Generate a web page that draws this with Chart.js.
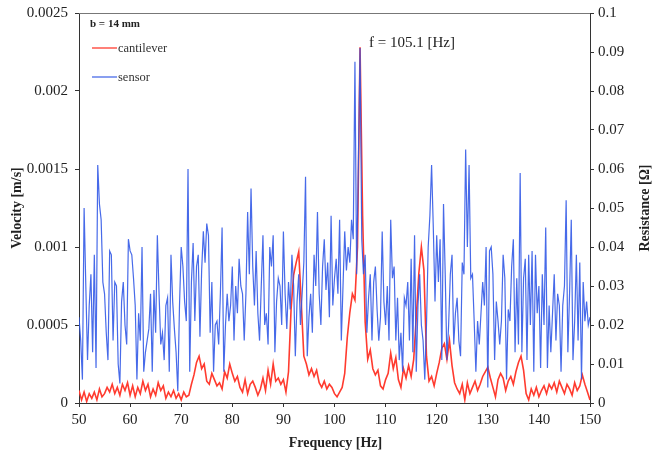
<!DOCTYPE html>
<html>
<head>
<meta charset="utf-8">
<script src="https://cdn.jsdelivr.net/npm/chart.js@4/dist/chart.umd.min.js"></script>
<style>
  html, body { margin: 0; padding: 0; background: #fff; }
  #wrap { width: 655px; height: 455px; position: relative; }
</style>
</head>
<body>
<div id="wrap"><canvas id="freqChart" width="655" height="455"></canvas></div>
<script>
// sensor resistance [Ohm], sampled every 1/3 Hz from 50 Hz (3 values per Hz)
var sensorRes = [
  0.022, 0.016, 0.006,  0.050, 0.030, 0.011,  0.025, 0.033, 0.013,  0.038, 0.009, 0.061,  0.051, 0.047, 0.031,
  0.028, 0.018, 0.011,  0.039, 0.038, 0.016,  0.031, 0.030, 0.010,  0.005, 0.026, 0.031,  0.020, 0.015, 0.042,
  0.039, 0.038, 0.032,  0.025, 0.006, 0.023,  0.016, 0.040, 0.008,  0.013, 0.016, 0.019,  0.028, 0.008, 0.029,
  0.018, 0.043, 0.028,  0.015, 0.018, 0.011,  0.025, 0.027, 0.008,  0.038, 0.026, 0.019,  0.013, 0.003, 0.025,
  0.040, 0.035, 0.026,  0.021, 0.060, 0.008,  0.031, 0.041, 0.021,  0.035, 0.038, 0.017,  0.034, 0.044, 0.036,
  0.046, 0.043, 0.018,  0.031, 0.008, 0.020,  0.021, 0.015, 0.028,  0.045, 0.008, 0.020,  0.028, 0.021, 0.025,
  0.035, 0.016, 0.030,  0.023, 0.037, 0.030,  0.028, 0.016, 0.028,  0.049, 0.033, 0.055,  0.035, 0.025, 0.039,
  0.023, 0.016, 0.030,  0.043, 0.020, 0.023,  0.015, 0.040, 0.035,  0.043, 0.013, 0.026,  0.032, 0.030, 0.020,
  0.044, 0.028, 0.019,  0.031, 0.024, 0.038,  0.030, 0.012, 0.026,  0.033, 0.020, 0.028,  0.036, 0.058, 0.012,
  0.022, 0.028, 0.018,  0.038, 0.030, 0.049,  0.028, 0.020, 0.035,  0.042, 0.029, 0.036,  0.022, 0.048, 0.025,
  0.032, 0.037, 0.028,  0.047, 0.016, 0.030,  0.044, 0.034, 0.040,  0.036, 0.047, 0.042,  0.0875, 0.033, 0.061,
  0.091, 0.042, 0.033,  0.038, 0.018, 0.027,  0.033, 0.016, 0.031,  0.035, 0.024, 0.016,  0.022, 0.044, 0.026,
  0.020, 0.030, 0.016,  0.047, 0.032, 0.035,  0.016, 0.027, 0.011,  0.018, 0.008, 0.027,  0.025, 0.031, 0.016,
  0.037, 0.013, 0.043,  0.008, 0.025, 0.033,  0.020, 0.016, 0.006,  0.020, 0.040, 0.048,  0.061, 0.045, 0.026,
  0.043, 0.031, 0.042,  0.011, 0.051, 0.033,  0.011, 0.020, 0.033,  0.038, 0.015, 0.023,  0.027, 0.016, 0.012,
  0.036, 0.033, 0.065,  0.040, 0.061, 0.032,  0.033, 0.021, 0.008,  0.021, 0.015, 0.023,  0.031, 0.025, 0.040,
  0.004, 0.039, 0.040,  0.033, 0.011, 0.026,  0.021, 0.015, 0.021,  0.038, 0.032, 0.006,  0.024, 0.021, 0.035,
  0.042, 0.013, 0.032,  0.015, 0.059, 0.013,  0.032, 0.037, 0.011,  0.038, 0.020, 0.039,  0.008, 0.038, 0.023,
  0.030, 0.009, 0.033,  0.020, 0.045, 0.009,  0.025, 0.013, 0.023,  0.033, 0.016, 0.028,  0.025, 0.008, 0.025,
  0.030, 0.052, 0.013,  0.028, 0.047, 0.011,  0.021, 0.038, 0.016,  0.036, 0.006, 0.031,  0.021, 0.026, 0.020,
  0.022
];

// cantilever velocity [m/s], sampled every 0.5 Hz from 50 Hz
var cantileverVel = [
  0.00008, 0.00002, 0.00007, 0.00001, 0.00006, 0.00003, 0.00007, 0.00002, 0.00009, 0.00004, // 50-54.5
  0.00006, 0.00010, 0.00007, 0.00012, 0.00006, 0.00010, 0.00005, 0.00012, 0.00008, 0.00013, // 55-59.5
  0.00005, 0.00011, 0.00004, 0.00010, 0.00006, 0.00014, 0.00008, 0.00012, 0.00004, 0.00009, // 60-64.5
  0.00005, 0.00013, 0.00008, 0.00011, 0.00003, 0.00007, 0.00004, 0.00008, 0.00003, 0.00006, // 65-69.5
  0.00002, 0.00007, 0.00004, 0.00005, 0.00012, 0.00018, 0.00026, 0.00030, 0.00022, 0.00025, // 70-74.5
  0.00014, 0.00012, 0.00019, 0.00015, 0.00011, 0.00013, 0.00009, 0.00020, 0.00016, 0.00025, // 75-79.5
  0.00019, 0.00014, 0.00017, 0.00010, 0.00007, 0.00015, 0.00006, 0.00012, 0.00014, 0.00010, // 80-84.5
  0.00005, 0.00009, 0.00016, 0.00008, 0.00021, 0.00012, 0.00025, 0.00014, 0.00016, 0.00012, // 85-89.5
  0.00015, 0.00007, 0.00020, 0.00060, 0.00082, 0.00090, 0.00097, 0.00064, 0.00030, 0.00025, // 90-94.5
  0.00018, 0.00022, 0.00017, 0.00021, 0.00013, 0.00010, 0.00014, 0.00009, 0.00012, 0.00010, // 95-99.5
  0.00006, 0.00004, 0.00007, 0.00010, 0.00019, 0.00042, 0.00058, 0.00070, 0.00066, 0.00100, // 100-104.5
  0.00228, 0.00120, 0.00052, 0.00028, 0.00034, 0.00022, 0.00018, 0.00021, 0.00011, 0.00009, // 105-109.5
  0.00015, 0.00019, 0.00032, 0.00022, 0.00029, 0.00015, 0.00010, 0.00022, 0.00016, 0.00024, // 110-114.5
  0.00017, 0.00028, 0.00055, 0.00083, 0.00100, 0.00085, 0.00030, 0.00014, 0.00017, 0.00011, // 115-119.5
  0.00019, 0.00026, 0.00035, 0.00038, 0.00028, 0.00040, 0.00024, 0.00013, 0.00009, 0.00006, // 120-124.5
  0.00012, 0.00002, 0.00013, 0.00006, 0.00010, 0.00014, 0.00008, 0.00012, 0.00017, 0.00020, // 125-129.5
  0.00023, 0.00016, 0.00010, 0.00004, 0.00015, 0.00019, 0.00016, 0.00008, 0.00014, 0.00017, // 130-134.5
  0.00012, 0.00020, 0.00026, 0.00030, 0.00021, 0.00006, 0.00002, 0.00009, 0.00005, 0.00010, // 135-139.5
  0.00004, 0.00008, 0.00011, 0.00006, 0.00012, 0.00009, 0.00013, 0.00007, 0.00014, 0.00010, // 140-144.5
  0.00006, 0.00012, 0.00009, 0.00005, 0.00013, 0.00008, 0.00011, 0.00018, 0.00012, 0.00007, // 145-149.5
  0.00002
];

var velTicks = ["0", "0.0005", "0.001", "0.0015", "0.002", "0.0025"];
var resTicks = ["0", "0.01", "0.02", "0.03", "0.04", "0.05", "0.06", "0.07", "0.08", "0.09", "0.1"];
var seriesNames = ["cantilever", "sensor"];
var peakLabel = "f = 105.1 [Hz]";
var beamLabel = "b = 14 mm";

// pair the values with their frequency [Hz]
function toPoints(vals, step) {
  return vals.map(function (v, i) { return { x: 50 + i * step, y: v }; });
}

var serif = "'Liberation Serif', 'DejaVu Serif', serif";
var redCol = "#ff3b2f";
var blueCol = "rgba(45, 85, 230, 0.88)";

// extra text, legend and frame drawn on the canvas
var extras = {
  id: "extras",
  afterDraw: function (chart) {
    var ctx = chart.ctx;
    var a = chart.chartArea;
    var midY = (a.top + a.bottom) / 2;
    ctx.save();
    // top frame line
    ctx.strokeStyle = "#777";
    ctx.lineWidth = 1;
    ctx.beginPath();
    ctx.moveTo(a.left, a.top + 0.5);
    ctx.lineTo(a.right, a.top + 0.5);
    ctx.stroke();

    ctx.fillStyle = "#222";
    ctx.textBaseline = "middle";
    ctx.font = "bold 11px " + serif;
    ctx.fillText(beamLabel, a.left + 11, a.top + 11);

    // legend
    var items = [[redCol, 35], ["#4a6be8", 64]];
    ctx.font = "12.5px " + serif;
    items.forEach(function (it, i) {
      ctx.strokeStyle = it[0];
      ctx.lineWidth = 1.3;
      ctx.beginPath();
      ctx.moveTo(a.left + 13, a.top + it[1]);
      ctx.lineTo(a.left + 38, a.top + it[1]);
      ctx.stroke();
      ctx.fillStyle = "#333";
      ctx.fillText(seriesNames[i], a.left + 39, a.top + it[1] + 1);
    });

    // peak annotation
    ctx.font = "15px " + serif;
    ctx.fillStyle = "#222";
    ctx.fillText(peakLabel, 369, 43);

    // axis titles
    ctx.font = "bold 14px " + serif;
    ctx.textAlign = "center";
    ctx.fillText("Frequency [Hz]", (a.left + a.right) / 2 + 1, 443);
    ctx.save();
    ctx.translate(17, midY);
    ctx.rotate(-Math.PI / 2);
    ctx.fillText("Velocity [m/s]", 0, 0);
    ctx.restore();
    ctx.translate(645, midY);
    ctx.rotate(-Math.PI / 2);
    ctx.fillText("Resistance [\u03a9]", 0, 0);
    ctx.restore();
  }
};

var tickFont = { family: serif, size: 15 };

// fixed axis box sizes so the plot area matches the original
function fixWidth(w) {
  return function (s) { s.width = w; s.paddingTop = 0; s.paddingBottom = 0; };
}

new Chart(document.getElementById("freqChart").getContext("2d"), {
  type: "line",
  data: {
    datasets: [
      {
        label: seriesNames[0],
        data: toPoints(cantileverVel, 0.5),
        borderColor: redCol,
        borderWidth: 1.6,
        yAxisID: "y",
        order: 2
      },
      {
        label: seriesNames[1],
        data: toPoints(sensorRes, 1 / 3),
        borderColor: blueCol,
        borderWidth: 1.2,
        yAxisID: "y1",
        order: 1
      }
    ]
  },
  plugins: [extras],
  options: {
    responsive: false,
    animation: false,
    layout: { padding: { top: 13, left: 0, right: 0, bottom: 0 } },
    elements: { point: { radius: 0 }, line: { tension: 0 } },
    plugins: { legend: { display: false }, tooltip: { enabled: false } },
    scales: {
      x: {
        type: "linear",
        min: 50,
        max: 150,
        ticks: { stepSize: 10, font: tickFont, color: "#222", padding: 4, maxRotation: 0 },
        grid: { drawOnChartArea: false, tickLength: 4, color: "#333" },
        border: { color: "#333" },
        afterFit: function (s) { s.height = 52; s.paddingLeft = 0; s.paddingRight = 0; }
      },
      y: {
        position: "left",
        min: 0,
        max: 0.0025,
        ticks: {
          stepSize: 0.0005, font: tickFont, color: "#222", padding: 7,
          callback: function (v, i) { return velTicks[i]; }
        },
        grid: { drawOnChartArea: false, tickLength: 4, color: "#333" },
        border: { color: "#333" },
        afterFit: fixWidth(79)
      },
      y1: {
        position: "right",
        min: 0,
        max: 0.1,
        ticks: {
          stepSize: 0.01, font: tickFont, color: "#222", padding: 4,
          callback: function (v, i) { return resTicks[i]; }
        },
        grid: { drawOnChartArea: false, tickLength: 4, color: "#333" },
        border: { color: "#333" },
        afterFit: fixWidth(65)
      }
    }
  }
});
</script>
</body>
</html>
